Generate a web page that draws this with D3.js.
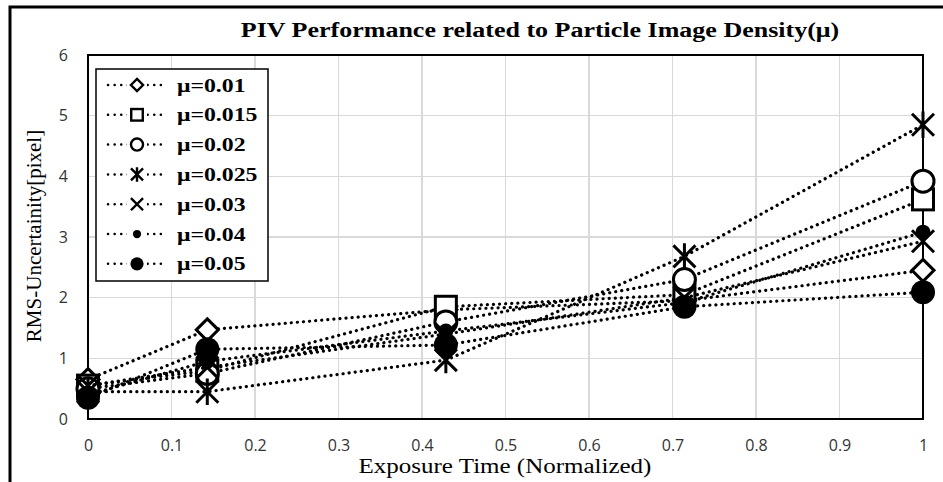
<!DOCTYPE html>
<html>
<head>
<title>PIV Performance</title>
<style>
  body { margin: 0; background: #fff; }
  .tick text { font-family: "Open Sans", sans-serif; font-size: 16px; fill: #333; }
  .grid line { stroke: #d9d9d9; stroke-width: 1.5px; shape-rendering: crispEdges; }
  .serif { font-family: "Liberation Serif", "Times New Roman", serif; fill: #000; }
</style>
</head>
<body>
<script src="https://d3js.org/d3.v7.min.js"></script>
<script>

// data
var xs = [0, 1 / 7, 3 / 7, 5 / 7, 1];
var labels = ["μ=0.01", "μ=0.015", "μ=0.02", "μ=0.025", "μ=0.03", "μ=0.04", "μ=0.05"];
var shapes = ["diamond", "square", "circle", "star", "cross", "dot", "bigdot"];
var mu001  = [0.65, 1.47, 1.80, 1.95, 2.45];
var mu0015 = [0.55, 0.80, 1.85, 2.05, 3.62];
var mu002  = [0.50, 0.75, 1.60, 2.30, 3.92];
var mu0025 = [0.45, 0.45, 0.97, 2.68, 4.85];
var mu003  = [0.55, 0.85, 1.40, 2.00, 2.93];
var mu004  = [0.40, 0.95, 1.45, 1.92, 3.08];
var mu005  = [0.35, 1.15, 1.22, 1.85, 2.09];
var values = [mu001, mu0015, mu002, mu0025, mu003, mu004, mu005];
var xTicks = [0, 0.1, 0.2, 0.3, 0.4, 0.5, 0.6, 0.7, 0.8, 0.9, 1];
var yTicks = [0, 1, 2, 3, 4, 5, 6];

var W = 943, H = 482;
var plot = {left: 88, right: 923, top: 55, bottom: 419};

var svg = d3.select("body").append("svg")
    .attr("width", W)
    .attr("height", H);

// outer chart frame (only left/top edges visible)
svg.append("rect")
    .attr("x", 10).attr("y", 7)
    .attr("width", 1000).attr("height", 600)
    .attr("fill", "#fff")
    .attr("stroke", "#000")
    .attr("stroke-width", 3);

var x = d3.scaleLinear().domain([0, 1]).range([plot.left, plot.right]);
var y = d3.scaleLinear().domain([0, 6]).range([plot.bottom, plot.top]);

// gridlines
svg.append("g").attr("class", "grid")
    .selectAll("line").data(xTicks.slice(1, -1)).join("line")
    .attr("x1", d => x(d)).attr("x2", d => x(d))
    .attr("y1", plot.top).attr("y2", plot.bottom);
svg.append("g").attr("class", "grid")
    .selectAll("line").data(yTicks.slice(1)).join("line")
    .attr("x1", plot.left).attr("x2", plot.right)
    .attr("y1", d => y(d)).attr("y2", d => y(d));

// plot frame
svg.append("rect")
    .attr("x", plot.left).attr("y", plot.top)
    .attr("width", plot.right - plot.left).attr("height", plot.bottom - plot.top)
    .attr("fill", "none")
    .attr("stroke", "#000")
    .attr("stroke-width", 2);

// axes (labels only)
var gx = svg.append("g")
    .attr("transform", "translate(0," + (plot.bottom + 17) + ")")
    .call(d3.axisBottom(x).tickValues(xTicks).tickFormat(d3.format("~g")).tickSize(0).tickPadding(4));
gx.select(".domain").remove();

var gy = svg.append("g")
    .attr("transform", "translate(" + (plot.left - 20) + ",0)")
    .call(d3.axisLeft(y).tickValues(yTicks).tickFormat(d3.format("d")).tickSize(0).tickPadding(0));
gy.select(".domain").remove();
gy.selectAll(".tick text").attr("dy", "0.32em");

// marker drawing
function marker(g, shape, s) {
  var sw = 3 * Math.max(s, 0.8);
  if (shape === "diamond") {
    var d = 11 * s;
    g.append("path").attr("d", "M0," + (-d) + "L" + d + ",0L0," + d + "L" + (-d) + ",0Z")
      .attr("fill", "#fff").attr("stroke", "#000").attr("stroke-width", sw);
  } else if (shape === "square") {
    var q = 10.5 * s;
    g.append("rect").attr("x", -q).attr("y", -q).attr("width", 2 * q).attr("height", 2 * q)
      .attr("fill", "#fff").attr("stroke", "#000").attr("stroke-width", sw);
  } else if (shape === "circle") {
    g.append("circle").attr("r", 11 * s)
      .attr("fill", "#fff").attr("stroke", "#000").attr("stroke-width", sw);
  } else if (shape === "star" || shape === "cross") {
    var c = 11 * s;
    var p = "M" + (-c) + "," + (-c) + "L" + c + "," + c + "M" + c + "," + (-c) + "L" + (-c) + "," + c;
    if (shape === "star") p += "M0," + (-c * 1.2) + "L0," + (c * 1.2);
    g.append("path").attr("d", p)
      .attr("fill", "none").attr("stroke", "#000").attr("stroke-width", sw);
  } else if (shape === "dot") {
    g.append("circle").attr("r", 7.5 * s).attr("fill", "#000");
  } else {
    g.append("circle").attr("r", 12 * s).attr("fill", "#000");
  }
}

var line = d3.line()
    .x((d, i) => x(xs[i]))
    .y(d => y(d));

values.forEach(function (vals, k) {
  svg.append("path")
      .datum(vals)
      .attr("d", line)
      .attr("fill", "none")
      .attr("stroke", "#000")
      .attr("stroke-width", 3.2)
      .attr("stroke-linecap", "round")
      .attr("stroke-dasharray", "0.1 6");
  vals.forEach(function (v, i) {
    var g = svg.append("g").attr("transform", "translate(" + x(xs[i]) + "," + y(v) + ")");
    marker(g, shapes[k], 1);
  });
});

// legend
var lg = svg.append("g");
lg.append("rect")
    .attr("x", 96).attr("y", 69)
    .attr("width", 172).attr("height", 212)
    .attr("fill", "#fff")
    .attr("stroke", "#000")
    .attr("stroke-width", 1.5);

labels.forEach(function (lab, k) {
  var cy = 85 + k * 29.8;
  lg.append("line")
      .attr("x1", 108).attr("x2", 167)
      .attr("y1", cy).attr("y2", cy)
      .attr("stroke", "#000")
      .attr("stroke-width", 2.5)
      .attr("stroke-linecap", "round")
      .attr("stroke-dasharray", "0.1 6.5");
  var g = lg.append("g").attr("transform", "translate(137," + cy + ")");
  g.append("rect").attr("x", -10).attr("y", -10).attr("width", 20).attr("height", 20).attr("fill", "#fff");
  marker(g, shapes[k], 0.55);
  lg.append("text")
      .attr("class", "serif")
      .attr("transform", "translate(177," + cy + ") scale(1.25,1)")
      .attr("dy", "0.35em")
      .attr("font-size", 19)
      .attr("font-weight", "bold")
      .text(lab);
});

// titles
svg.append("text")
    .attr("class", "serif")
    .attr("transform", "translate(540,37) scale(1.3,1)")
    .attr("text-anchor", "middle")
    .attr("font-size", 20)
    .attr("font-weight", "bold")
    .text("PIV Performance related to Particle Image Density(μ)");

svg.append("text")
    .attr("class", "serif")
    .attr("transform", "translate(505,473) scale(1.25,1)")
    .attr("text-anchor", "middle")
    .attr("font-size", 20)
    .text("Exposure Time (Normalized)");

svg.append("text")
    .attr("class", "serif")
    .attr("transform", "translate(41,236) rotate(-90)")
    .attr("text-anchor", "middle")
    .attr("font-size", 21)
    .text("RMS-Uncertainity[pixel]");

</script>
</body>
</html>
